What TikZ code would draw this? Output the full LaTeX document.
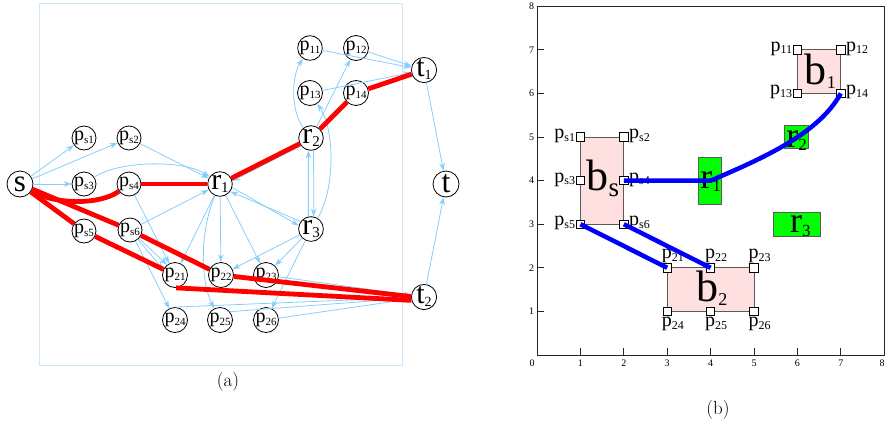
\documentclass[tikz,border=0pt]{standalone}
\usepackage{fontspec}
\usepackage{graphicx}
\usetikzlibrary{arrows.meta}
\newfontfamily\tms{Liberation Serif}
\definecolor{eblue}{RGB}{135,206,250}
\definecolor{fblue}{RGB}{205,232,250}
\definecolor{pinkf}{RGB}{255,224,224}
\definecolor{gbord}{RGB}{90,90,90}
\definecolor{gfill}{RGB}{0,255,0}
\newcommand\glab[4]{{\fontsize{#1}{#1}\selectfont #2}{\fontsize{#3}{#3}\selectfont\raisebox{-0.22em}{#4}}}
\tikzset{
 gn/.style={circle, draw, line width=0.8pt, fill=white, minimum size=24pt, inner sep=0pt, font=\tms},
 bn/.style={gn, minimum size=26pt},
 ea/.style={eblue, line width=0.8pt, -{Stealth[length=8pt,width=5.5pt]}},
 rl/.style={red, line width=4.8pt},
 sq/.style={draw, fill=white, line width=0.8pt, minimum size=8.5pt, inner sep=0pt},
 plab/.style={font=\tms, inner sep=0.5pt},
 gbox/.style={draw=gbord, fill=gfill, line width=0.8pt, inner sep=0pt},
 bbox/.style={draw=gbord, fill=pinkf, line width=0.8pt},
 bpath/.style={blue, line width=4.5pt},
 tick/.style={font=\tms\fontsize{10}{10}\selectfont, inner sep=0pt},
 capt/.style={font=\fontsize{19}{19}\selectfont, inner sep=0pt}
}
\begin{document}
\begin{tikzpicture}[x=1pt,y=-1pt]
\useasboundingbox (0,0) rectangle (885,429);
% ---------- panel (a) ----------
\draw[fblue, line width=0.6pt] (39,3) rectangle (402,365);
\node[bn] (s) at (20,184) {\fontsize{31}{31}\selectfont s};
\node[gn] (ps1) at (84,138) {\glab{20}{p}{11}{s1}};
\node[gn] (ps2) at (129,138) {\glab{20}{p}{11}{s2}};
\node[gn] (ps3) at (84,184) {\glab{20}{p}{11}{s3}};
\node[gn] (ps4) at (129,184) {\glab{20}{p}{11}{s4}};
\node[gn] (ps5) at (84,231) {\glab{20}{p}{11}{s5}};
\node[gn] (ps6) at (130,230) {\glab{20}{p}{11}{s6}};
\node[gn] (r1) at (220,184) {\glab{30}{r}{15}{1}};
\node[gn] (r2) at (311,138) {\glab{30}{r}{15}{2}};
\node[gn] (r3) at (311,229) {\glab{30}{r}{15}{3}};
\node[gn] (p11) at (310,48) {\glab{20}{p}{11}{11}};
\node[gn] (p12) at (356,48) {\glab{20}{p}{11}{12}};
\node[gn] (p13) at (310,93) {\glab{20}{p}{11}{13}};
\node[gn] (p14) at (356,93) {\glab{20}{p}{11}{14}};
\node[gn] (t1) at (424,70) {\glab{30}{t}{14}{1}};
\node[bn] (t) at (446,184) {\fontsize{32}{32}\selectfont t};
\node[gn] (t2) at (424,297) {\glab{30}{t}{14}{2}};
\node[gn] (p21) at (175,275) {\glab{20}{p}{11}{21}};
\node[gn] (p22) at (221,275) {\glab{20}{p}{11}{22}};
\node[gn] (p23) at (266,275) {\glab{20}{p}{11}{23}};
\node[gn] (p24) at (175,320) {\glab{20}{p}{11}{24}};
\node[gn] (p25) at (220,320) {\glab{20}{p}{11}{25}};
\node[gn] (p26) at (266,320) {\glab{20}{p}{11}{26}};
% blue edges
\draw[ea] (s) -- (ps1);
\draw[ea] (s) -- (ps2);
\draw[ea] (s) -- (ps3);
\draw[ea] (ps2) -- (r1);
\draw[ea] (ps3) .. controls (120,160) and (185,160) .. (r1);
\draw[ea] (ps6) -- (r1);
\draw[ea] (ps4) -- (p21);
\draw[ea] (ps6) -- (p21.155);
\draw[ea] (ps6) -- (p21.128);
\draw[ea] (ps6) -- (p24);
\draw[ea] (r1) -- (p21);
\draw[ea] (r1) -- (p22);
\draw[ea] (r1) -- (p23);
\draw[ea] (r1) .. controls (200,230) and (200,280) .. (p25);
\draw[ea] (r1.-16) -- (r3.164);
\draw[ea] (r3.144) -- (r1.-36);
\draw[ea] (r2.218) -- (r1.14);
\draw[ea] (r3.102) -- (r2.258);
\draw[ea] (r2.-78) -- (r3.78);
\draw[ea] (r2) .. controls (290,110) and (292,75) .. (p11);
\draw[ea] (r2) -- (p12);
\draw[ea] (r3) .. controls (335,190) and (335,130) .. (p13);
\draw[ea] (r3) -- (p22);
\draw[ea] (r3) -- (p23);
\draw[ea] (r3) -- (p26);
\draw[ea] (p11) -- (t1);
\draw[ea] (p12) -- (t1);
\draw[ea] (p13) -- (t1);
\draw[ea] (t1) -- (t);
\draw[ea] (t2) -- (t);
\draw[ea] (p23) -- (t2);
\draw[ea] (p24.north) -- (t2);
\draw[ea] (p25.40) -- (t2);
\draw[ea] (p26) -- (t2);
% red path edges
\draw[rl] (s) .. controls (55,205) and (100,205) .. (ps4);
\draw[rl] (ps4) -- (r1);
\draw[rl] (r1) -- (r2);
\draw[rl] (r2) -- (p14);
\draw[rl] (p14) -- (t1);
\draw[rl] (s) -- (ps5);
\draw[rl] (ps5) -- (p21);
\draw[rl] (p21.-85) -- (t2.195);
\draw[rl] (s) -- (ps6);
\draw[rl] (ps6) -- (p22);
\draw[rl] (p22) -- (t2.178);
\node[capt] (capa) at (228,382) {(a)};
% ---------- panel (b) ----------
\begin{scope}[shift={(537,355)}, x=43.4pt, y=43.6pt]
\draw[line width=1pt, black!85] (0,0) rectangle (8,8);
\foreach \i in {1,...,7} {
  \draw[line width=0.8pt, black!85] (\i,0) -- ++(0,7pt);
  \draw[line width=0.8pt, black!85] (0,\i) -- ++(7pt,0);
  \node[tick] (xt\i) at (\i,-0.18) {\i};
}
\foreach \i in {1,...,8} { \node[tick, anchor=east] (yt\i) at (-0.06,\i) {\i}; }
\node[tick] (xt0) at (-0.11,-0.18) {0};
\node[tick] (xt8) at (7.95,-0.18) {8};
% boxes
\draw[bbox] (1,3) rectangle (2,5);
\draw[bbox] (6,6) rectangle (7,7);
\draw[bbox] (3,1) rectangle (5,2);
\node[font=\tms, anchor=base, inner sep=0pt] (lbs) at (1.52,3.78) {\glab{44}{b}{27}{s}};
\node[font=\tms, anchor=base, inner sep=0pt] (lb1) at (6.53,6.2) {\glab{44}{b}{18}{1}};
\node[font=\tms, anchor=base, inner sep=0pt] (lb2) at (4.03,1.22) {\glab{44}{b}{18}{2}};
% green boxes
\node[gbox, minimum width=23pt, minimum height=47pt] (g1) at (3.985,4.0) {};
\node[gbox, minimum width=24pt, minimum height=23pt] (g2) at (5.975,5.01) {};
\node[gbox, minimum width=47pt, minimum height=24pt] (g3) at (5.99,3.005) {};
\node[font=\tms, anchor=base, inner sep=0pt] (lr1) at (4.0,3.83) {\glab{36}{r}{17}{1}};
\node[font=\tms, anchor=base, inner sep=0pt] (lr2) at (5.98,4.77) {\glab{36}{r}{17}{2}};
\node[font=\tms, anchor=base, inner sep=0pt] (lr3) at (6.07,2.8) {\glab{36}{r}{17}{3}};
% squares
\node[sq] (qs1) at (1,5) {};
\node[sq] (qs2) at (2,5) {};
\node[sq] (qs3) at (1,4) {};
\node[sq] (qs4) at (2,4) {};
\node[sq] (qs5) at (1,3) {};
\node[sq] (qs6) at (2,3) {};
\node[sq] (q11) at (6,7) {};
\node[sq] (q12) at (7,7) {};
\node[sq] (q13) at (6,6) {};
\node[sq] (q14) at (7,6) {};
\node[sq] (q21) at (3,2) {};
\node[sq] (q22) at (4,2) {};
\node[sq] (q23) at (5,2) {};
\node[sq] (q24) at (3,1) {};
\node[sq] (q25) at (4,1) {};
\node[sq] (q26) at (5,1) {};
% square labels
\node[plab, anchor=base east] (ls1) at ([yshift=-1.5pt]qs1.west) {\glab{20}{p}{12}{s1}};
\node[plab, anchor=base west] (ls2) at ([yshift=-1.5pt]qs2.east) {\glab{20}{p}{12}{s2}};
\node[plab, anchor=base east] (ls3) at ([yshift=-1.5pt]qs3.west) {\glab{20}{p}{12}{s3}};
\node[plab, anchor=base west] (ls4) at ([yshift=-1.5pt]qs4.east) {\glab{20}{p}{12}{s4}};
\node[plab, anchor=base east] (ls5) at ([yshift=-1.5pt]qs5.west) {\glab{20}{p}{12}{s5}};
\node[plab, anchor=base west] (ls6) at ([yshift=-1.5pt]qs6.east) {\glab{20}{p}{12}{s6}};
\node[plab, anchor=base east] (l11) at ([yshift=-1.5pt]q11.west) {\glab{20}{p}{12}{11}};
\node[plab, anchor=base west] (l12) at ([yshift=-1.5pt]q12.east) {\glab{20}{p}{12}{12}};
\node[plab, anchor=base east] (l13) at ([yshift=-1.5pt]q13.west) {\glab{20}{p}{12}{13}};
\node[plab, anchor=base west] (l14) at ([yshift=-1.5pt]q14.east) {\glab{20}{p}{12}{14}};
\node[plab, anchor=south west, inner sep=0pt] (l21) at ([xshift=-1pt]q21.north west) {\glab{20}{p}{12}{21}};
\node[plab, anchor=south west, inner sep=0pt] (l22) at ([xshift=-1pt]q22.north west) {\glab{20}{p}{12}{22}};
\node[plab, anchor=south west, inner sep=0pt] (l23) at ([xshift=-1pt]q23.north west) {\glab{20}{p}{12}{23}};
\node[plab, anchor=north west, inner sep=0pt] (l24) at ([xshift=-1pt,yshift=-1pt]q24.south west) {\glab{20}{p}{12}{24}};
\node[plab, anchor=north west, inner sep=0pt] (l25) at ([xshift=-1pt,yshift=-1pt]q25.south west) {\glab{20}{p}{12}{25}};
\node[plab, anchor=north west, inner sep=0pt] (l26) at ([xshift=-1pt,yshift=-1pt]q26.south west) {\glab{20}{p}{12}{26}};
% blue paths
\coordinate (cr1) at (4,4);
\draw[bpath] (qs4.center) -- (cr1) .. controls (5.3,4.55) and (6.5,5.1) .. (q14.center);
\draw[bpath] (qs5.center) -- (q21.center);
\draw[bpath] (qs6.center) -- (q22.center);
\end{scope}
\node[capt] (capb) at (718,410) {(b)};
\end{tikzpicture}
\end{document}
